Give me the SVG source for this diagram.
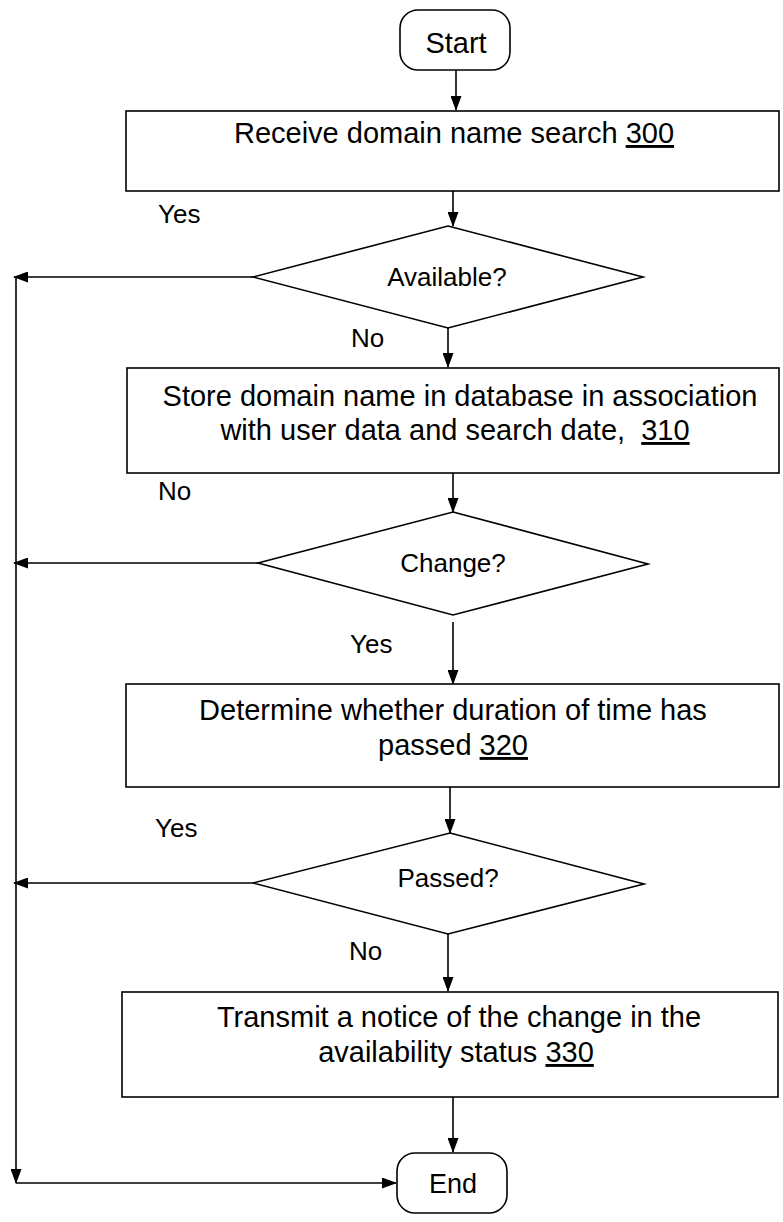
<svg xmlns="http://www.w3.org/2000/svg" width="783" height="1222" viewBox="0 0 783 1222">
<style>
.s{fill:#fff;stroke:#000;stroke-width:1.6}
.c{fill:none;stroke:#000;stroke-width:1.6}
.t{font-family:"Liberation Sans",Arial,sans-serif;font-size:29px;fill:#000;text-anchor:middle}
.d{font-family:"Liberation Sans",Arial,sans-serif;font-size:26px;fill:#000;text-anchor:middle}
.l{font-family:"Liberation Sans",Arial,sans-serif;font-size:26px;fill:#000}
.u{text-decoration:underline}
</style>
<defs>
<marker id="a" markerUnits="userSpaceOnUse" markerWidth="15" markerHeight="11" refX="14" refY="5.5" orient="auto">
<path d="M0,0 L15,5.5 L0,11 z" fill="#000"/>
</marker>
</defs>
<g id="connectors">
<line class="c" x1="456" y1="70" x2="456" y2="110" marker-end="url(#a)"/>
<line class="c" x1="453" y1="191" x2="453" y2="226" marker-end="url(#a)"/>
<line class="c" x1="253" y1="277" x2="14" y2="277" marker-end="url(#a)"/>
<line class="c" x1="448" y1="328" x2="448" y2="367" marker-end="url(#a)"/>
<line class="c" x1="453" y1="473" x2="453" y2="512" marker-end="url(#a)"/>
<line class="c" x1="258" y1="563" x2="14" y2="563" marker-end="url(#a)"/>
<line class="c" x1="453" y1="622" x2="453" y2="684" marker-end="url(#a)"/>
<line class="c" x1="450" y1="787" x2="450" y2="833" marker-end="url(#a)"/>
<line class="c" x1="253" y1="883" x2="14" y2="883" marker-end="url(#a)"/>
<line class="c" x1="448" y1="934" x2="448" y2="991" marker-end="url(#a)"/>
<line class="c" x1="453" y1="1097" x2="453" y2="1152" marker-end="url(#a)"/>
<line class="c" x1="16" y1="277" x2="16" y2="1183" marker-end="url(#a)"/>
<line class="c" x1="16" y1="1183" x2="396" y2="1183" marker-end="url(#a)"/>
<text class="l" x="158" y="223">Yes</text>
<text class="l" x="351" y="347">No</text>
<text class="l" x="158" y="500">No</text>
<text class="l" x="350" y="653">Yes</text>
<text class="l" x="155" y="837">Yes</text>
<text class="l" x="349" y="960">No</text>
</g>
<g id="start">
<rect class="s" x="400" y="10" width="110" height="60" rx="18"/>
<text class="t" x="456" y="53">Start</text>
</g>
<g id="box300">
<rect class="s" x="126" y="111" width="653" height="80"/>
<text class="t" x="454" y="143">Receive domain name search <tspan class="u">300</tspan></text>
</g>
<g id="available">
<polygon class="s" points="448,226 643,277 448,328 253,277"/>
<text class="d" x="447" y="286">Available?</text>
</g>
<g id="box310">
<rect class="s" x="127" y="368" width="652" height="105"/>
<text class="t" x="460" y="406">Store domain name in database in association</text>
<text class="t" x="455" y="440" xml:space="preserve">with user data and search date,  <tspan class="u">310</tspan></text>
</g>
<g id="change">
<polygon class="s" points="453,512 648,564 453,615 258,563"/>
<text class="d" x="453" y="572">Change?</text>
</g>
<g id="box320">
<rect class="s" x="126" y="684" width="653" height="103"/>
<text class="t" x="453" y="720">Determine whether duration of time has</text>
<text class="t" x="453" y="755">passed <tspan class="u">320</tspan></text>
</g>
<g id="passed">
<polygon class="s" points="450,833 644,884 448,934 253,883"/>
<text class="d" x="448" y="887">Passed?</text>
</g>
<g id="box330">
<rect class="s" x="122" y="992" width="656" height="105"/>
<text class="t" x="459" y="1027">Transmit a notice of the change in the</text>
<text class="t" x="456" y="1062">availability status <tspan class="u">330</tspan></text>
</g>
<g id="end">
<rect class="s" x="397" y="1153" width="110" height="60" rx="18"/>
<text class="t" x="453" y="1193" style="font-size:27px">End</text>
</g>
</svg>
